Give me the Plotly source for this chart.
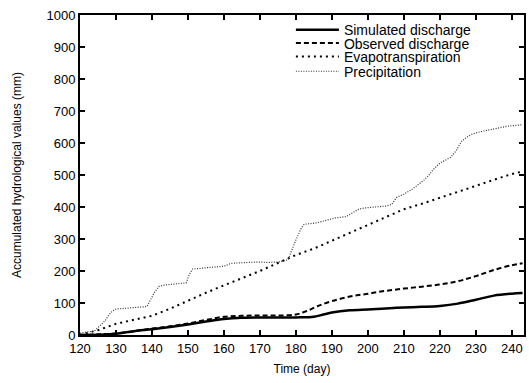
import plotly.graph_objects as go

# Simulated discharge
sim_days = [120, 125, 130, 135, 140, 145, 150, 155, 160, 165, 170, 175, 180, 185, 188, 190, 195, 200, 205, 210, 215, 220, 225, 230, 235, 240, 243]
sim_vals = [0, 1, 4, 12, 18, 25, 33, 42, 50, 54, 55, 55, 55, 57, 65, 70, 77, 80, 83, 86, 88, 91, 98, 110, 123, 129, 131]

# Observed discharge
obs_days = [120, 125, 130, 135, 140, 145, 150, 155, 160, 165, 170, 175, 180, 183, 186, 190, 195, 200, 205, 210, 215, 220, 225, 230, 235, 240, 243]
obs_vals = [0, 2, 5, 12, 20, 27, 36, 47, 57, 60, 61, 61, 64, 75, 90, 106, 120, 129, 138, 145, 151, 158, 168, 184, 203, 218, 224]

# Evapotranspiration
et_days = [120, 125, 130, 135, 140, 145, 150, 155, 160, 165, 170, 175, 180, 185, 190, 195, 200, 205, 210, 215, 220, 225, 230, 235, 240, 243]
et_vals = [0, 15, 35, 47, 60, 82, 108, 132, 155, 177, 200, 225, 250, 270, 295, 320, 345, 370, 393, 410, 428, 447, 466, 485, 503, 511]

# Precipitation
pr_days = [120, 122, 124, 125, 126, 127, 128, 129, 130, 133, 136, 138.6, 139.5, 140.8, 142, 144, 146, 149.5, 150.4, 151.3,
           153, 156, 160, 162, 165, 169, 172, 175, 177.8, 178.7, 180, 181.5, 182.3, 185.6, 188, 191, 194, 195.6, 197.4, 199,
           202, 205, 206.6, 208, 210, 212, 214, 215.6, 217, 218, 220, 221.5, 223, 224.5, 226, 227.5, 229, 231.5, 235.6, 239, 243]
pr_vals = [5, 10, 12, 22, 35, 45, 62, 75, 81, 84, 86, 89, 108, 135, 152, 157, 159, 163, 190, 206,
           208, 210, 215, 224, 226, 228, 227, 228, 235, 262, 297, 334, 346, 350, 358, 366, 370, 381, 393, 397,
           400, 403, 408, 430, 440, 453, 470, 484, 500, 515, 537, 545, 555, 575, 605, 618, 628, 636, 646, 653, 657]

x_ticks = [120, 130, 140, 150, 160, 170, 180, 190, 200, 210, 220, 230, 240]
y_ticks = [0, 100, 200, 300, 400, 500, 600, 700, 800, 900, 1000]

font_family = "Liberation Sans, Arial, sans-serif"

fig = go.Figure()
fig.add_trace(go.Scatter(x=sim_days, y=sim_vals, mode="lines", name="Simulated discharge", legend="legend",
                         line=dict(color="black", width=2.5, shape="spline")))
fig.add_trace(go.Scatter(x=obs_days, y=obs_vals, mode="lines", name="Observed discharge", legend="legend2",
                         line=dict(color="black", width=2, dash="5px,3px", shape="spline")))
fig.add_trace(go.Scatter(x=et_days, y=et_vals, mode="lines", name="Evapotranspiration", legend="legend3",
                         line=dict(color="black", width=2, dash="2px,4px")))
fig.add_trace(go.Scatter(x=pr_days, y=pr_vals, mode="lines", name="Precipitation", legend="legend4",
                         line=dict(color="#333333", width=1.2, dash="1px,1.5px")))

axis_common = dict(
    showline=True, linecolor="black", linewidth=2, mirror="ticks",
    ticks="inside", ticklen=5, tickwidth=1.5, tickcolor="black",
    showgrid=False, zeroline=False, automargin=False,
    tickfont=dict(family=font_family, size=13, color="black"),
)

fig.update_xaxes(range=[120, 243.4], tickvals=x_ticks,
                 title=dict(text="Time (day)", font=dict(family=font_family, size=12, color="black"), standoff=10),
                 **axis_common)
fig.update_yaxes(range=[0, 1000], tickvals=y_ticks,
                 title=dict(text="Accumulated hydrological values (mm)", font=dict(family=font_family, size=12, color="black"), standoff=22),
                 **axis_common)

legend_common = dict(x=0.475, xanchor="left", yanchor="middle", bgcolor="rgba(0,0,0,0)",
                     font=dict(family=font_family, size=14, color="black"), itemwidth=43,
                     borderwidth=0)
fig.update_layout(
    width=529, height=383,
    margin=dict(l=80, r=5, t=15, b=48),
    plot_bgcolor="white", paper_bgcolor="white",
    font=dict(family=font_family, color="black"),
    legend=dict(y=0.953, **legend_common),
    legend2=dict(y=0.911, **legend_common),
    legend3=dict(y=0.869, **legend_common),
    legend4=dict(y=0.823, **legend_common),
    showlegend=True,
)

fig.write_html("out.html", config={"displayModeBar": False},
               post_script="document.body.style.margin='0';document.body.style.padding='0';")
